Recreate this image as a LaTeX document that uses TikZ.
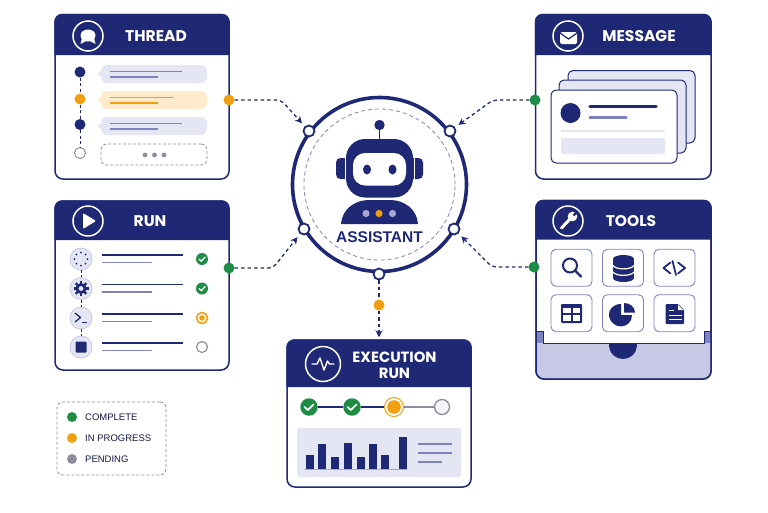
\documentclass[tikz,border=0pt]{standalone}
\usepackage{fontspec}
\setmainfont{Liberation Sans}
\newfontfamily\headfont{Poppins}
\usetikzlibrary{arrows.meta,positioning,calc}
\definecolor{navy}{HTML}{1E2875}
\definecolor{lilac}{HTML}{7F82C0}
\definecolor{pale}{HTML}{E5E6F4}
\definecolor{tray}{HTML}{C6C8E6}
\definecolor{amber}{HTML}{F09F10}
\definecolor{paleamber}{HTML}{FDEBCB}
\definecolor{okgreen}{HTML}{1E8C45}
\definecolor{pending}{HTML}{8E8E9E}

\begin{document}
\begin{tikzpicture}[
        x=1pt,y=-1pt,
        cardsty/.style={
            draw=navy, fill=white, line width=1.5pt, rounded corners=8pt, inner sep=0pt,
        },
        titlesty/.style={
            text=white, align=center, inner sep=0pt,
            font=\headfont\bfseries\fontsize{15.5}{16}\selectfont,
        },
        iconringsty/.style={
            circle, draw=white, line width=1.5pt, minimum size=30pt, inner sep=0pt,
        },
        dotsty/.style={
            circle, fill=#1, minimum size=11pt, inner sep=0pt,
        },
        portsty/.style={
            circle, draw=navy, fill=white, line width=1.8pt, minimum size=11pt, inner sep=0pt,
        },
        linksty/.style={
            navy, line width=1.3pt, dash pattern=on 3.5pt off 3pt, rounded corners=5pt,
        },
        tiplinksty/.style={
            linksty, -{Stealth[length=7pt,width=7pt]}, shorten >=4pt,
        },
        statussty/.style={
            circle, minimum size=12pt, inner sep=0pt, fill=#1,
        },
        checksty/.style={
            white, line width=1.5pt, line cap=round, line join=round,
        },
        runiconsty/.style={
            circle, draw=tray, fill=pale, line width=0.8pt, minimum size=22pt, inner sep=0pt,
        },
        tilesty/.style={
            draw=lilac, fill=white, line width=0.9pt, rounded corners=5pt,
            minimum width=41pt, minimum height=37pt, inner sep=0pt,
        },
        bubblesty/.style={
            fill=#1, rounded corners=6pt, minimum width=106pt, minimum height=18pt, inner sep=0pt,
        },
        greydash/.style={
            draw=pending, line width=0.8pt, dash pattern=on 3pt off 2pt, rounded corners=6pt,
        },
        legendsty/.style={
            inner sep=0pt, anchor=west, text=navy!60!black, font=\fontsize{9.5}{11}\selectfont,
        },
    ]

    \useasboundingbox (0,0) rectangle (768,512);

    % cards with their headers
    \foreach \cardname/\xa/\ya/\xb/\yb/\yh in {thread/55/14.5/229/179/55,run/55/201/229/370/240,
        message/535.5/14.5/711/179/55,tools/536/200.5/711/379/239.5,exec/287/340/471/487/387}{
        \node[cardsty, minimum width={(\xb-\xa)*1pt}, minimum height={(\yb-\ya)*1pt}]
            at ({(\xa+\xb)/2},{(\ya+\yb)/2}) (\cardname card) {};
        \fill[navy] (\xa-0.75,\yh) {[rounded corners=8pt] -- (\xa-0.75,\ya-0.75) -- (\xb+0.75,\ya-0.75)} -- (\xb+0.75,\yh) -- cycle;
    }
    \node[titlesty] at (156,36.5) (threadtitle) {THREAD};
    \node[titlesty] at (150,221) (runtitle) {RUN};
    \node[titlesty] at (639,36.5) (messagetitle) {MESSAGE};
    \node[titlesty] at (631,221) (toolstitle) {TOOLS};
    \node[titlesty, font=\headfont\bfseries\fontsize{14.8}{16}\selectfont] at (394.5,365.5) (exectitle) {EXECUTION\\RUN};

    % header icons
    \node[iconringsty] at (88,36) (threadicon) {};
    \fill[white] (88,35.5) ellipse (7.5 and 6);
    \fill[white] (82,38) -- (80.5,44) -- (86,41) -- cycle (94,38) -- (95.5,44) -- (90,41) -- cycle;
    \node[iconringsty] at (88,221) (runicon) {};
    \fill[white, rounded corners=1pt] (83,213) -- (96,221) -- (83,229) -- cycle;
    \node[iconringsty] at (568,36) (messageicon) {};
    \fill[white, rounded corners=1.5pt] (560,32) rectangle (577,44);
    \draw[navy, line width=1.2pt] (560,33) -- (568.5,39) -- (577,33);
    \node[iconringsty] at (568,221) (toolsicon) {};
    \draw[white, line width=3pt, line cap=round] (561.5,228) -- (570,219);
    \fill[white] (572.5,216.5) circle (4.8);
    \draw[navy, line width=2.4pt] (573.5,215.5) -- (577.5,211.5);
    \node[iconringsty, minimum size=35pt] at (323,364) (execicon) {};
    \draw[white, line width=1.4pt, line join=round, line cap=round]
        (312,364) -- (317,364) -- (320,358) -- (324,370) -- (327.5,361) -- (329.5,364) -- (334,364);

    % thread rows
    \foreach \i/\y/\fillc/\linec/\dotc/\dy in {1/74/pale/lilac/navy/72,2/100/paleamber/amber/amber/99,3/126/pale/lilac/navy/124.5}{
        \node[bubblesty=\fillc] at (154,\y) (bubble\i) {};
        \fill[\fillc] (101.5,\y-3) -- (97,\y) -- (101.5,\y+3) -- cycle;
        \draw[\linec, line width=1.3pt] (110,\y-2.5) -- ++({(\i==2)?64:72},0);
        \draw[\linec, line width=1.3pt] (110,\y+3) -- ++(48,0);
        \node[dotsty=\dotc] at (80,\dy) (tdot\i) {};
    }
    \node[circle, draw=pending, fill=white, line width=1pt, minimum size=11pt, inner sep=0pt] at (80,153) (tdot4) {};
    \draw[linksty, line width=0.9pt, dash pattern=on 3pt off 2.5pt] (tdot1) -- (tdot2);
    \draw[linksty, line width=0.9pt, dash pattern=on 3pt off 2.5pt] (tdot2) -- (tdot3);
    \draw[linksty, line width=0.9pt, dash pattern=on 3pt off 2.5pt] (tdot3) -- (tdot4);
    \node[greydash, minimum width=106pt, minimum height=21pt, inner sep=0pt] at (154,154.5) (morebox) {};
    \foreach \x in {145,154.5,164}{
        \fill[pending] (\x,155) circle (2.4);
    }

    % run rows
    \foreach \i/\y in {1/259,2/288.5,3/318,4/347}{
        \node[runiconsty] at (81,\y) (step\i) {};
        \draw[navy, line width=1.5pt] (102,\y-4) -- ++(81,0);
        \draw[lilac, line width=1.5pt] (102,\y+3.5) -- ++(50,0);
    }
    \draw[navy, line width=0.6pt, densely dashed] (step1) -- (step2);
    \draw[navy, line width=0.6pt, densely dashed] (step2) -- (step3);
    \draw[navy, line width=0.6pt, densely dashed] (step3) -- (step4);
    \foreach \a in {0,45,...,315}{
        \fill[navy] (step1)+(\a:6.5) circle (1);
    }
    \fill[navy] (step2) circle (5.5);
    \foreach \a in {0,45,...,315}{
        \draw[navy, line width=2.4pt] (step2)+(\a:4) -- +(\a:7.5);
    }
    \fill[pale] (step2) circle (2.4);
    \draw[navy, line width=1.3pt, line join=round] (step3)+(-6,-5) -- +(-0.5,-0.5) -- +(-6,4);
    \draw[navy, line width=1.3pt] (step3)+(1,4.5) -- +(6,4.5);
    \fill[navy, rounded corners=1pt] (step4)+(-5.5,-5.5) rectangle +(5.5,5.5);

    % run status marks
    \node[statussty=okgreen] at (202,259) (status1) {};
    \node[statussty=okgreen] at (202,288.5) (status2) {};
    \node[circle, draw=amber, fill=white, line width=1.6pt, minimum size=11pt, inner sep=0pt] at (202,318) (status3) {};
    \fill[amber] (status3) circle (2.8);
    \node[circle, draw=pending, fill=white, line width=1.2pt, minimum size=11pt, inner sep=0pt] at (202,347) (status4) {};
    \foreach \n in {status1,status2}{
        \draw[checksty, line width=1.3pt] (\n)+(-3,0) -- +(-0.8,2.2) -- +(3.2,-2);
    }

    % message stack
    \foreach \n/\xa/\ya/\xb/\yb/\fillc in {msgback/568/70.5/695/143/pale,msgmid/559/80/686/153/pale,msgfront/551/90/677/163/white}{
        \node[draw=navy, fill=\fillc, line width=1pt, rounded corners=5pt, inner sep=0pt,
            minimum width={(\xb-\xa)*1pt}, minimum height={(\yb-\ya)*1pt}] at ({(\xa+\xb)/2},{(\ya+\yb)/2}) (\n) {};
    }
    \fill[navy] (570.5,113) circle (10);
    \draw[navy, line width=3.5pt, line cap=round] (590,106.5) -- (656,106.5);
    \draw[lilac, line width=3pt] (589,117) -- (627,117);
    \draw[pale, line width=2pt] (561,130.5) -- (665,130.5);
    \fill[pale, rounded corners=1.5pt] (561,138) rectangle (665,154);

    % tools tray and tiles
    \fill[tray] (536.75,343) {[rounded corners=7pt] -- (536.75,378.25) -- (710.25,378.25)} -- (710.25,343) -- cycle;
    \fill[lilac] (536.75,331) rectangle (543,343);
    \fill[lilac] (704,331) rectangle (710.25,343);
    \draw[navy, line width=0.8pt] (536.75,331) -- (543,331) -- (543,343) -- (704,343) -- (704,331) -- (710.25,331);
    \fill[navy] (609,343.5) .. controls (609,364) and (637,364) .. (637,343.5) -- cycle;
    \node[cardsty, fill=none, minimum width=175pt, minimum height=178.5pt] at (623.5,289.75) (trayedge) {};
    \foreach \n/\x/\y in {tsearch/571.5/267.75,tdata/623/267.75,tcode/674.5/267.75,ttable/571.5/313.25,tpie/623/313.25,tdoc/674.5/313.25}{
        \node[tilesty] at (\x,\y) (\n) {};
    }
    \draw[navy, line width=2pt] (570,265.5) circle (7);
    \draw[navy, line width=2.4pt, line cap=round] (575.5,271) -- (581,276.5);
    \fill[navy] (613,259) rectangle (634,278) ;
    \fill[navy] (623.5,259) ellipse (10.5 and 4);
    \fill[navy] (623.5,278) ellipse (10.5 and 4);
    \foreach \y in {265.5,272}{
        \draw[white, line width=1.2pt] (613,\y) .. controls (616,\y+4.5) and (631,\y+4.5) .. (634,\y);
    }
    \draw[navy, line width=1.8pt, line cap=round, line join=round] (670.5,262.5) -- (663.5,268) -- (670.5,273.5);
    \draw[navy, line width=1.8pt, line cap=round, line join=round] (678,262.5) -- (685,268) -- (678,273.5);
    \draw[navy, line width=1.8pt, line cap=round] (676,275) -- (672.5,261);
    \fill[navy, rounded corners=1pt] (561,304) rectangle (582,323);
    \foreach \a/\b/\c/\d in {563/307.5/570.5/313,572.5/307.5/580/313,563/315/570.5/321,572.5/315/580/321}{
        \fill[white] (\a,\b) rectangle (\c,\d);
    }
    \fill[navy] (621,304) -- (621,315) -- (632,315) .. controls (632,329) and (612,331) .. (609,316) .. controls (608,310) and (613,304) .. (621,304) -- cycle;
    \fill[navy] (624,303) .. controls (630,303) and (635,307) .. (635,312.5) -- (624,312.5) -- cycle;
    \fill[navy, rounded corners=1pt] (665.5,304) -- (678,304) -- (684,310) -- (684,324) -- (665.5,324) -- cycle;
    \fill[white] (678,305) -- (678,310) -- (683,310) -- cycle;
    \foreach \y/\w in {310/5,315/13,319.5/13}{
        \draw[white, line width=1pt] (669,\y) -- ++(\w,0);
    }

    % execution steps
    \node[statussty=okgreen, minimum size=17.5pt] at (309,407) (run1) {};
    \node[statussty=okgreen, minimum size=17.5pt] at (352,407) (run2) {};
    \node[circle, draw=amber, fill=white, line width=1pt, minimum size=19pt, inner sep=0pt] at (394,407) (run3) {};
    \fill[amber] (run3) circle (6.8);
    \node[circle, draw=pending, fill=pale!40, line width=1.3pt, minimum size=15pt, inner sep=0pt] at (442,407) (run4) {};
    \draw[navy, line width=1.2pt] (run1) -- (run2);
    \draw[navy, line width=1.2pt] (run2) -- (run3);
    \draw[pending, line width=1.2pt] (run3) -- (run4);
    \foreach \n in {run1,run2}{
        \draw[checksty, line width=1.7pt] (\n)+(-4.5,0) -- +(-1.2,3) -- +(4.5,-2.5);
    }

    % execution chart
    \node[fill=pale, rounded corners=3pt, minimum width=164pt, minimum height=49pt, inner sep=0pt] at (379,452.5) (chart) {};
    \foreach \x/\y in {306/455,318/444,331/457,344/443,357/457,369/444,381/455,399/437}{
        \fill[navy] (\x,\y) rectangle (\x+8,469);
    }
    \draw[lilac!60!pale, line width=0.6pt] (304,469.5) -- (407,469.5);
    \draw[lilac, line width=1.6pt] (418,444) -- (452,444);
    \draw[lilac, line width=1.6pt] (418,453) -- (452,453);
    \draw[lilac, line width=1.6pt] (418,462) -- (442,462);

    % assistant
    \node[circle, draw=navy, line width=3.6pt, minimum size=174pt, inner sep=0pt] at (379.5,184.5) (ring) {};
    \node[circle, draw=lilac, line width=0.8pt, dash pattern=on 4pt off 3pt, minimum size=151pt, inner sep=0pt] at (379.5,184.5) (innerring) {};
    \draw[navy, line width=1.5pt] (379.5,125) -- (379.5,140);
    \fill[navy] (379.5,125) circle (5.2);
    \fill[navy, rounded corners=4.5pt] (336,158) rectangle (352,179);
    \fill[navy, rounded corners=4.5pt] (407,158) rectangle (423,179);
    \draw[white, line width=1pt] (345,156) -- (345,181);
    \draw[white, line width=1pt] (414,156) -- (414,181);
    \fill[navy, rounded corners=19pt] (346,139) rectangle (413,197.5);
    \fill[white, rounded corners=12pt] (353,153) rectangle (406,185.5);
    \fill[navy] (367,169.5) ellipse (4 and 5);
    \fill[navy] (392.5,169.5) ellipse (4 and 5);
    \fill[navy] (341,224) .. controls (342,209) and (355,200) .. (369,200) -- (390,200) .. controls (404,200) and (417,209) .. (418,224) -- cycle;
    \foreach \x/\c in {366/lilac!70!white,379/amber,392.5/lilac!70!white}{
        \fill[\c] (\x,213.5) circle (3.6);
    }
    \node[inner sep=0pt, text=navy, font=\bfseries\fontsize{15.5}{18}\selectfont] at (379.5,237.5) (assistantlabel) {ASSISTANT};

    % connectors
    \node[portsty] at (309,131) (portthread) {};
    \node[portsty] at (450,131) (portmessage) {};
    \node[portsty] at (304,229) (portrun) {};
    \node[portsty] at (454,229) (porttools) {};
    \node[portsty] at (379,274) (portexec) {};
    \node[dotsty=amber] at (229,100) (threaddot) {};
    \node[dotsty=okgreen] at (229,268) (rundot) {};
    \node[dotsty=okgreen] at (535,100) (messagedot) {};
    \node[dotsty=okgreen] at (534,267) (toolsdot) {};
    \node[dotsty=amber] at (379,305) (execdot) {};
    \coordinate (threadbend) at (281,100);
    \coordinate (messagebend) at (493,100);
    \coordinate (runbend) at (273,268);
    \coordinate (toolsbend) at (492,267);

    \draw[tiplinksty] (threaddot) -- (threadbend) -- (portthread);
    \draw[tiplinksty] (messagedot) -- (messagebend) -- (portmessage);
    \draw[tiplinksty] (rundot) -- (runbend) -- (portrun);
    \draw[tiplinksty] (toolsdot) -- (toolsbend) -- (porttools);
    \draw[linksty] (portexec) -- (execdot);
    \draw[tiplinksty, shorten >=2pt] (execdot) -- (execcard);

    % legend
    \node[greydash, minimum width=109pt, minimum height=73pt, inner sep=0pt] at (111.5,438.5) (legendbox) {};
    \foreach \n/\y/\c/\t in {complete/417/okgreen/COMPLETE,progress/438/amber/IN PROGRESS,waiting/459/pending/PENDING}{
        \node[dotsty=\c, minimum size=10pt] at (72,\y) (\n dot) {};
        \node[legendsty] at (85,\y) (\n label) {\t};
    }
\end{tikzpicture}
\end{document}
